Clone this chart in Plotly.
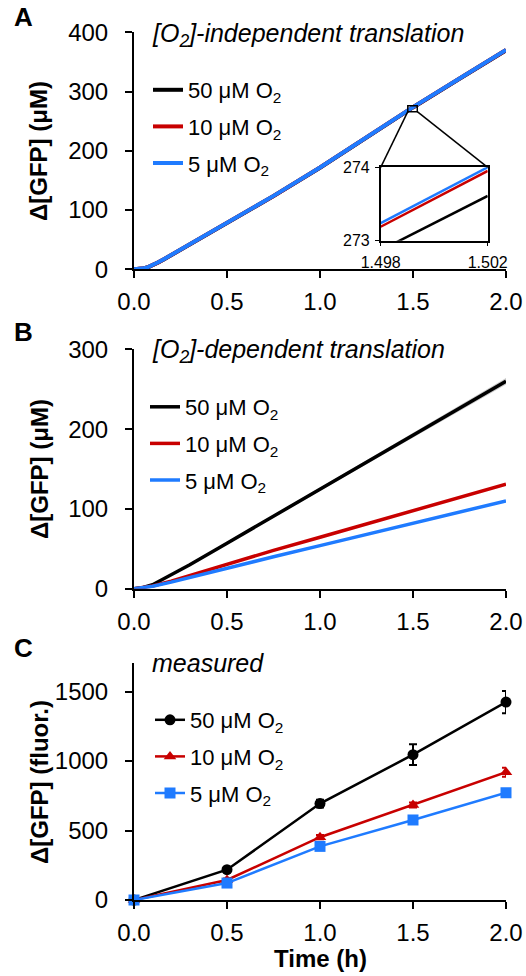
import plotly.graph_objects as go

W, H = 526, 976
FONT = "Liberation Sans, Arial, sans-serif"
BLACK, RED, BLUE = "#000000", "#C80000", "#1F7BFF"

labels = ["50 μM O<sub>2</sub>", "10 μM O<sub>2</sub>", "5 μM O<sub>2</sub>"]
colors = [BLACK, RED, BLUE]

# Panel A: [O2]-independent translation (model)
a_x = [0, 0.025, 0.05, 0.075, 0.1, 0.13, 0.16, 0.2, 0.3, 0.4, 0.5, 0.75, 1.0, 1.25, 1.5, 1.75, 2.0]
a_50 = [0, 0.3, 1.4, 3.4, 6.6, 11.4, 16.6, 23.8, 41.8, 60.2, 78.8, 123.5, 171.5, 222.0, 273.2, 321.6, 369.6]
a_10 = [0, 0.4, 1.6, 3.7, 6.9, 11.7, 16.9, 24.1, 42.1, 60.5, 79.1, 123.8, 171.8, 222.3, 273.6, 322.0, 370.0]
a_5 = [0, 0.4, 1.6, 3.7, 7.0, 11.8, 17.0, 24.2, 42.2, 60.6, 79.2, 123.9, 171.9, 222.4, 273.6, 322.1, 370.1]

# Inset zoom of panel A
inset_x = [1.498, 1.502]
inset_50 = [272.87, 273.61]
inset_10 = [273.19, 273.95]
inset_5 = [273.24, 274.0]

# Panel B: [O2]-dependent translation (model)
b_x = [0, 0.05, 0.1, 0.2, 0.3, 0.5, 0.75, 1.0, 1.25, 1.5, 1.75, 2.0]
b_50 = [0, 1.5, 5, 17, 30, 57, 91, 125, 159, 193, 227, 260]
b_50_hi = [0, 1.5, 5.2, 17.4, 30.6, 58, 92.5, 127, 161.5, 196, 230.5, 264]
b_50_lo = [0, 1.5, 4.8, 16.6, 29.4, 56, 89.5, 123, 156.5, 190, 223.5, 256]
b_10 = [0, 1.2, 3.5, 9.5, 16.5, 31, 48, 64.5, 81, 98, 114.5, 131]
b_5 = [0, 1.0, 3.0, 8.2, 14.0, 26.5, 40, 54, 68, 82, 96, 110]

# Panel C: measured
c_x = [0, 0.5, 1.0, 1.5, 2.0]
c_50 = [0, 218, 694, 1046, 1425]
c_50_err = [0, 18, 28, 75, 80]
c_10 = [0, 144, 452, 684, 920]
c_10_err = [0, 10, 15, 18, 32]
c_5 = [0, 122, 386, 576, 772]
c_5_err = [0, 10, 14, 15, 18]

def px(x):
    return x / W

def py(y):
    return 1 - y / H

fig = go.Figure()

# --- Panel A ---
for vals, lab, col, lg in zip([a_50, a_10, a_5], labels, colors, ["a0", "a1", "a2"]):
    fig.add_trace(go.Scatter(x=a_x, y=vals, mode="lines", line=dict(color=col, width=4),
                             name=lab, legend="legend", legendgroup=lg, xaxis="x", yaxis="y"))
# inset
for vals, col in zip([inset_50, inset_10, inset_5], colors):
    fig.add_trace(go.Scatter(x=inset_x, y=vals, mode="lines", line=dict(color=col, width=2.5),
                             showlegend=False, xaxis="x4", yaxis="y4"))

# --- Panel B ---
fig.add_trace(go.Scatter(x=b_x, y=b_50_hi, mode="lines", line=dict(color="rgba(0,0,0,0)", width=0),
                         showlegend=False, xaxis="x2", yaxis="y2", hoverinfo="skip"))
fig.add_trace(go.Scatter(x=b_x, y=b_50_lo, mode="lines", line=dict(color="rgba(0,0,0,0)", width=0),
                         fill="tonexty", fillcolor="rgba(150,150,150,0.5)",
                         showlegend=False, xaxis="x2", yaxis="y2", hoverinfo="skip"))
for vals, lab, col, lg in zip([b_50, b_10, b_5], labels, colors, ["b0", "b1", "b2"]):
    fig.add_trace(go.Scatter(x=b_x, y=vals, mode="lines", line=dict(color=col, width=3.5),
                             name=lab, legend="legend2", legendgroup=lg, xaxis="x2", yaxis="y2"))

# --- Panel C ---
symbols = ["circle", "triangle-up", "square"]
msizes = [11, 11, 11]
for vals, errs, lab, col, sym, ms, lg in zip([c_50, c_10, c_5], [c_50_err, c_10_err, c_5_err], labels, colors,
                                            symbols, msizes, ["c0", "c1", "c2"]):
    fig.add_trace(go.Scatter(x=c_x, y=vals, mode="lines+markers", line=dict(color=col, width=2.5),
                             marker=dict(symbol=sym, size=ms, color=col),
                             error_y=dict(type="data", array=errs, color=col, thickness=2, width=4),
                             name=lab, legend="legend3", legendgroup=lg, xaxis="x3", yaxis="y3", cliponaxis=False))

xdom = [px(134), px(506)]
axis_common = dict(showline=True, linecolor="black", linewidth=2, ticks="outside", ticklen=7, tickwidth=2,
                   tickcolor="black", showgrid=False, zeroline=False, automargin=False,
                   tickfont=dict(family=FONT, size=24, color="black"))
xt = dict(tickvals=[0, 0.5, 1.0, 1.5, 2.0], ticktext=["0.0", "0.5", "1.0", "1.5", "2.0"], range=[0, 2])
inset_common = dict(showline=True, mirror=True, linecolor="black", linewidth=1.5, ticks="outside", ticklen=4,
                    tickcolor="black", showgrid=False, zeroline=False, automargin=False,
                    tickfont=dict(family=FONT, size=16, color="black"))

fig.update_layout(
    width=W, height=H, margin=dict(l=0, r=0, t=0, b=0),
    plot_bgcolor="white", paper_bgcolor="white",
    font=dict(family=FONT, size=22, color="black"),
    xaxis=dict(domain=xdom, anchor="y", **xt, **axis_common, ticklabelstandoff=3),
    yaxis=dict(domain=[py(269.3), py(32.3)], anchor="x", range=[0, 400], tickvals=[0, 100, 200, 300, 400],
               **axis_common, ticklabelstandoff=12),
    xaxis2=dict(domain=xdom, anchor="y2", **xt, **axis_common, ticklabelstandoff=3),
    yaxis2=dict(domain=[py(588.7), py(349.3)], anchor="x2", range=[0, 300], tickvals=[0, 100, 200, 300],
                **axis_common, ticklabelstandoff=12),
    xaxis3=dict(domain=xdom, anchor="y3", **xt, **axis_common, ticklabelstandoff=3),
    yaxis3=dict(domain=[py(900), py(663)], anchor="x3", range=[0, 1706], tickvals=[0, 500, 1000, 1500],
                **axis_common, ticklabelstandoff=12),
    xaxis4=dict(domain=[px(380.7), px(487.7)], anchor="y4", range=[1.498, 1.502], tickvals=[1.498, 1.502],
                ticktext=["1.498", "1.502"], **inset_common, ticklabelstandoff=2),
    yaxis4=dict(domain=[py(240.7), py(167.3)], anchor="x4", range=[273, 274], tickvals=[273, 274],
                **inset_common, ticklabelstandoff=2),
    showlegend=True,
)

leg_common = dict(font=dict(family=FONT, size=22, color="black"), bgcolor="rgba(0,0,0,0)",
                  xanchor="left", yanchor="top", tracegroupgap=5, itemwidth=30)
fig.update_layout(
    legend=dict(x=px(148), y=py(69), **leg_common),
    legend2=dict(x=px(145), y=py(386), **leg_common),
    legend3=dict(x=px(150), y=py(699), **leg_common),
)

# zoom box on main curve and connectors to inset
bx0, bx1, by0, by1 = 1.472, 1.523, 266, 276
fig.add_shape(type="rect", xref="x", yref="y", x0=bx0, x1=bx1, y0=by0, y1=by1,
              line=dict(color="black", width=1.5))
# inset corners expressed in panel-A data coordinates
xa0, xa1 = 134, 506
ya0, ya1 = 269.3, 32.3
def to_a(xp, yp):
    return (xp - xa0) / (xa1 - xa0) * 2.0, (ya0 - yp) / (ya0 - ya1) * 400
ix0, iy = to_a(380.7, 167.3)
ix1, _ = to_a(487.7, 167.3)
fig.add_shape(type="line", xref="x", yref="y", x0=bx0, y0=by0, x1=ix0, y1=iy, line=dict(color="black", width=1.5))
fig.add_shape(type="line", xref="x", yref="y", x0=bx1, y0=by0, x1=ix1, y1=iy, line=dict(color="black", width=1.5))

# Panel letters
for letter, y in [("A", 17), ("B", 332), ("C", 648)]:
    fig.add_annotation(text="<b>%s</b>" % letter, x=px(23), y=py(y), xref="paper", yref="paper",
                       showarrow=False, xanchor="center", yanchor="middle",
                       font=dict(family=FONT, size=26, color="black"))

# Subtitles
for txt, y in [("<i>[O<sub>2</sub>]-independent translation</i>", 35),
               ("<i>[O<sub>2</sub>]-dependent translation</i>", 351),
               ("<i>measured</i>", 663)]:
    fig.add_annotation(text=txt, x=px(150), y=py(y), xref="paper", yref="paper", showarrow=False,
                       xanchor="left", yanchor="middle", font=dict(family=FONT, size=25, color="black"))

# Y axis titles
for txt, y in [("<b>Δ[GFP] (μM)</b>", 151), ("<b>Δ[GFP] (μM)</b>", 469), ("<b>Δ[GFP] (fluor.)</b>", 782)]:
    fig.add_annotation(text=txt, x=px(39), y=py(y), xref="paper", yref="paper", showarrow=False,
                       textangle=-90, xanchor="center", yanchor="middle",
                       font=dict(family=FONT, size=24, color="black"))

fig.add_annotation(text="<b>Time (h)</b>", x=px(320), y=py(958), xref="paper", yref="paper", showarrow=False,
                   xanchor="center", yanchor="middle", font=dict(family=FONT, size=24, color="black"))

fig.write_html("out.html")
